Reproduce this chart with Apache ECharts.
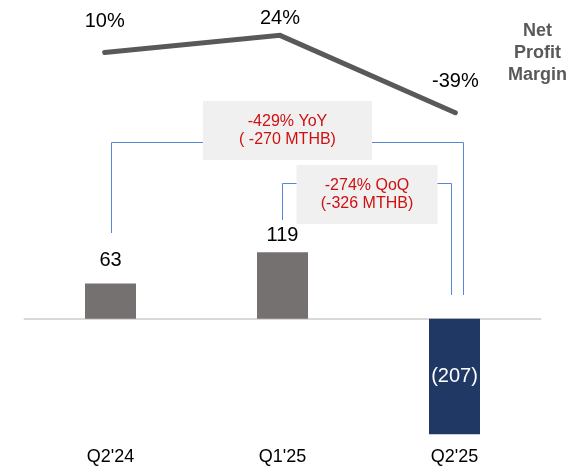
<!DOCTYPE html>
<html>
<head>
<meta charset="utf-8">
<style>
  html, body { margin: 0; padding: 0; background: #fff; }
  #chart { width: 570px; height: 466px; }
</style>
<script src="https://cdn.jsdelivr.net/npm/echarts@6/dist/echarts.min.js"></script>
</head>
<body>
<div id="chart"></div>
<script>
// Quarterly net profit (MTHB) and net profit margin (%)
const quarters = ["Q2'24", "Q1'25", "Q2'25"];
const netProfit = [63, 119, -207];
const netMargin = [10, 24, -39];
const yoyText = ['-429% YoY', '( -270 MTHB)'];
const qoqText = ['-274% QoQ', '(-326 MTHB)'];
const marginTitle = ['Net', 'Profit', 'Margin'];

const FONT = '"Liberation Sans", Arial, sans-serif';
const BAR_GREY = '#767171';
const BAR_NAVY = '#203864';
const LINE_GREY = '#595959';
const BRACKET_BLUE = '#5a86d8';
const RED = '#cc1111';

const chart = echarts.init(document.getElementById('chart'), null, { renderer: 'canvas' });

// distance of each value label from its mark
const barLabelGap = [13, 7, 0];
const lineLabelGap = [20, 5.5, 20];

const option = {
  animation: false,
  backgroundColor: '#ffffff',
  textStyle: { fontFamily: FONT },
  grid: [
    { left: 24.5, width: 516, top: 179, height: 258.5 },
    { left: 17, width: 526, top: 28, height: 86 }
  ],
  xAxis: [
    {
      type: 'category', gridIndex: 0, data: quarters, position: 'bottom',
      axisLine: { show: false, onZero: false }, axisTick: { show: false },
      axisLabel: { fontSize: 18, color: '#000', fontFamily: FONT, margin: 12 }
    },
    {
      type: 'category', gridIndex: 0, data: quarters, position: 'bottom',
      axisLine: { show: true, onZero: true, lineStyle: { color: '#d9d9d9', width: 2 } },
      axisTick: { show: false }, axisLabel: { show: false }
    },
    {
      type: 'category', gridIndex: 1, data: quarters,
      axisLine: { show: false }, axisTick: { show: false }, axisLabel: { show: false }
    }
  ],
  yAxis: [
    { type: 'value', gridIndex: 0, min: -210, max: 250, show: false, splitLine: { show: false } },
    { type: 'value', gridIndex: 1, min: -40, max: 30, show: false, splitLine: { show: false } }
  ],
  series: [
    {
      type: 'bar', xAxisIndex: 0, yAxisIndex: 0, barWidth: 51, z: 3,
      data: netProfit.map((v, i) => ({
        value: v,
        itemStyle: { color: v < 0 ? BAR_NAVY : BAR_GREY },
        label: v < 0
          ? { show: true, position: 'inside', color: '#fff', fontSize: 20, fontFamily: FONT,
              formatter: () => '(' + Math.abs(v) + ')' }
          : { show: true, position: 'top', distance: barLabelGap[i], color: '#000', fontSize: 20,
              fontFamily: FONT, formatter: '{c}' }
      }))
    },
    {
      type: 'line', xAxisIndex: 2, yAxisIndex: 1, clip: false,
      symbol: 'circle', symbolSize: 2, showSymbol: true,
      itemStyle: { color: 'rgba(0,0,0,0)' },
      lineStyle: { color: LINE_GREY, width: 5, cap: 'round', join: 'miter' },
      label: { show: true, position: 'top', color: '#000', fontSize: 20, fontFamily: FONT,
               formatter: '{c}%' },
      data: netMargin.map((v, i) => ({
        value: v,
        label: { distance: lineLabelGap[i] }
      }))
    }
  ]
};

chart.setOption(option);

// Comparison brackets anchored on the bar category positions
const xAt = (i) => chart.convertToPixel({ xAxisIndex: 0 }, quarters[i]);
const x1 = xAt(0), x2 = xAt(1), x3 = xAt(2);

function bracket(xl, xr, yTop, yLeftBottom, yRightBottom, lines, boxW, boxTop, boxH) {
  const cx = (xl + xr) / 2;
  return [
    {
      type: 'polyline', z: 10,
      shape: { points: [[xl, yLeftBottom], [xl, yTop], [xr, yTop], [xr, yRightBottom]] },
      style: { stroke: BRACKET_BLUE, lineWidth: 1, fill: null }
    },
    {
      type: 'rect', z: 11,
      shape: { x: cx - boxW / 2, y: boxTop, width: boxW, height: boxH },
      style: { fill: '#f0f0f0' }
    },
    {
      type: 'text', z: 12, x: cx, y: boxTop + boxH / 2,
      style: {
        text: lines.join('\n'), fill: RED, font: '16px ' + FONT,
        align: 'center', verticalAlign: 'middle', lineHeight: 18
      }
    }
  ];
}

const graphics = []
  .concat(bracket(Math.round(x1) + 0.5, Math.round(x3 + 8.5) + 0.5, 142.5, 233, 295, yoyText, 169, 101, 59))
  .concat(bracket(Math.round(x2 - 1) + 0.5, Math.round(x3 - 3.5) + 0.5, 183.5, 220, 295, qoqText, 141, 165, 59));

graphics.push({
  type: 'text', z: 12, x: 537.5, y: 53,
  style: {
    text: marginTitle.join('\n'), fill: LINE_GREY, font: 'bold 18px ' + FONT,
    align: 'center', verticalAlign: 'middle', lineHeight: 22
  }
});

chart.setOption({ graphic: graphics });
</script>
</body>
</html>
